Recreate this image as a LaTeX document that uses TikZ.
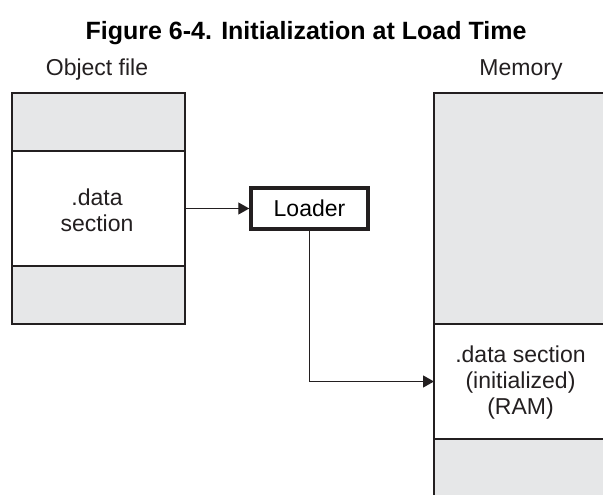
\documentclass[tikz,border=0pt]{standalone}
\usepackage{fontspec}
\setmainfont{Liberation Sans}
\usetikzlibrary{arrows.meta}
\definecolor{secgray}{HTML}{E6E7E8}
\definecolor{edge}{HTML}{231F20}
\tikzset{
  sec/.style={draw=edge, line width=2pt, inner sep=0pt, outer sep=0pt, rectangle},
  lab/.style={font=\fontsize{23}{26}\selectfont, align=center, text=edge, inner sep=0pt},
  ttl/.style={font=\fontsize{25}{28}\selectfont\bfseries, text=black, inner sep=0pt},
  loaderbox/.style={draw=edge, line width=3.5pt, fill=white, inner sep=0pt, minimum width=117pt, minimum height=41pt, font=\fontsize{23}{26}\selectfont},
  conn/.style={draw=edge, line width=1.2pt, -{Triangle[length=11pt,width=12pt]}}
}
\begin{document}
\begin{tikzpicture}[x=1pt,y=-1pt]
\useasboundingbox (0,0) rectangle (603,495);
\clip (0,0) rectangle (603,495);
% title and headings
\node[ttl, anchor=base] (title) at (306,40) {Figure 6-4. Initialization at Load Time};
\node[lab, anchor=base] (objlabel) at (97,76) {Object file};
\node[lab, anchor=base] (memlabel) at (521,76) {Memory};
% object file
\node[sec, fill=secgray, minimum width=173.5pt, minimum height=58pt] (objtop) at (98.25,122) {};
\node[sec, fill=white, minimum width=173.5pt, minimum height=115pt] (objmid) at (98.25,208.5) {};
\node[sec, fill=secgray, minimum width=173.5pt, minimum height=58pt] (objbot) at (98.25,295) {};
\node[lab] (objtext) at (97,210) {.data\\section};
% memory
\node[sec, fill=secgray, minimum width=216pt, minimum height=231pt] (memtop) at (542,208.5) {};
\node[sec, fill=white, minimum width=216pt, minimum height=115pt] (memmid) at (542,381.5) {};
\node[sec, fill=secgray, minimum width=216pt, minimum height=101pt] (membot) at (542,489.5) {};
\node[lab] (memtext) at (520.5,383) {.data section\\(initialized)\\(RAM)};
% loader
\node[loaderbox] (loader) at (309.5,208.5) {Loader};
% connectors
\draw[conn] (objmid.east) -- (loader.west);
\draw[conn] (loader.south) |- (memmid.west);
\end{tikzpicture}
\end{document}
